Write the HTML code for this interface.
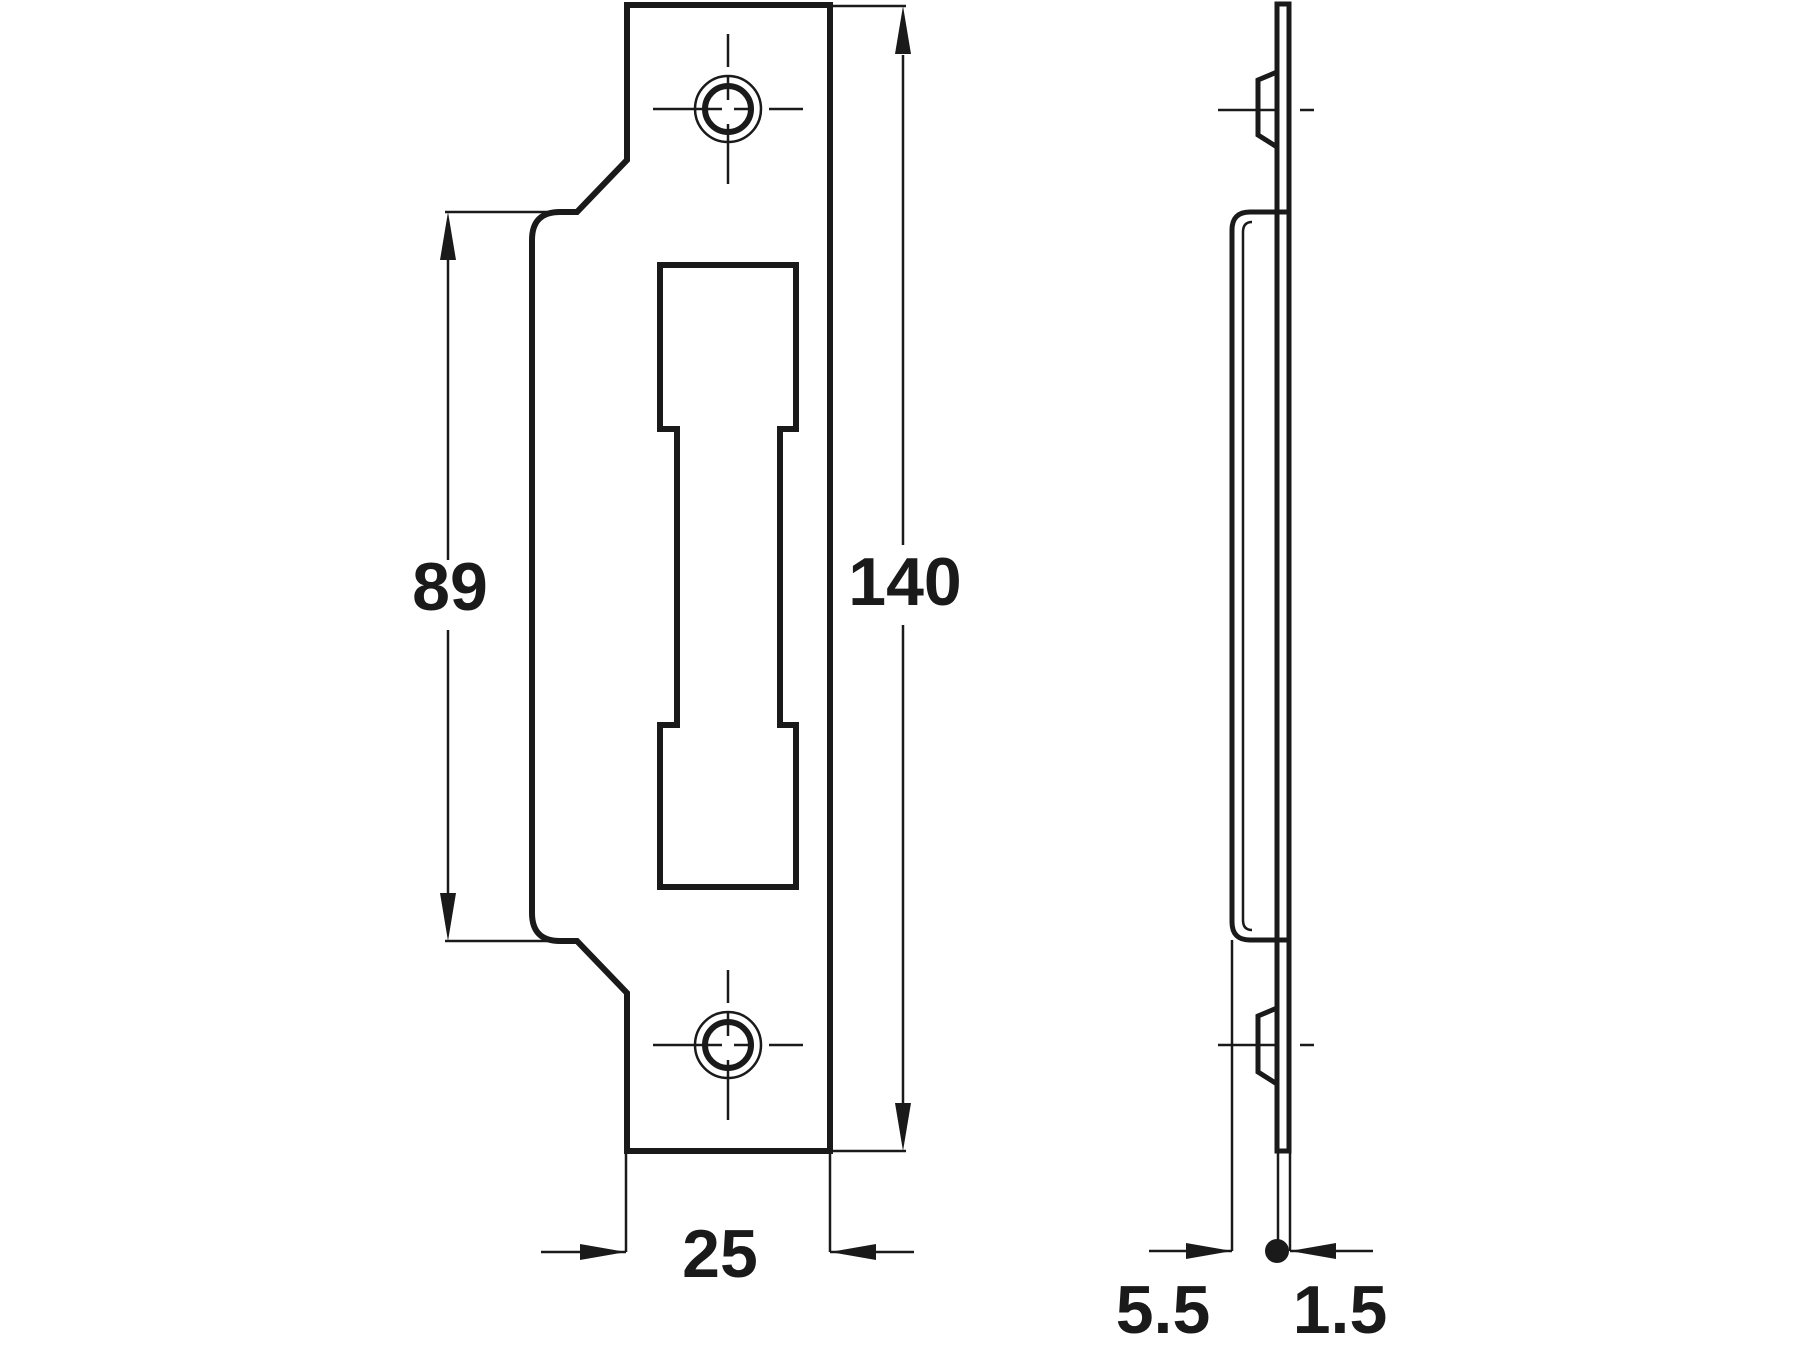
<!DOCTYPE html>
<html><head><meta charset="utf-8"><style>
html,body{margin:0;padding:0;background:#fff;}
svg{display:block;}
text{font-family:"Liberation Sans",sans-serif;font-weight:bold;fill:#1a1a1a;}
</style></head><body>
<svg width="1800" height="1350" viewBox="0 0 1800 1350" xmlns="http://www.w3.org/2000/svg">
<g fill="none" stroke="#1a1a1a" stroke-linejoin="miter">
<!-- front plate -->
<path d="M627 5 H830 V1151 H627 V993 L577 941 H560 Q532 941 532 913 V240 Q532 212 560 212 H577 L627 160 Z" stroke-width="6"/>
<!-- window -->
<path d="M660 265 H796 V429 H780 V725 H796 V887 H660 V725 H677 V429 H660 Z" stroke-width="6"/>
<!-- holes -->
<g>
<circle cx="728" cy="109" r="33" stroke-width="2.5"/>
<circle cx="728" cy="109" r="23" stroke-width="6"/>
<path d="M653 109 H722 M734 109 H752 M769 109 H803 M728 34 V67 M728 76 V100 M728 124 V184" stroke-width="2.5"/>
</g>
<g transform="translate(0,936)">
<circle cx="728" cy="109" r="33" stroke-width="2.5"/>
<circle cx="728" cy="109" r="23" stroke-width="6"/>
<path d="M653 109 H722 M734 109 H752 M769 109 H803 M728 34 V67 M728 76 V100 M728 124 V184" stroke-width="2.5"/>
</g>
<!-- 89 dim -->
<path d="M445 212 H565 M445 941 H565 M448 260 V560 M448 630 V893" stroke-width="2.5"/>
<!-- 140 dim -->
<path d="M830 6 H906 M830 1151 H906 M903 55 V545 M903 625 V1103" stroke-width="2.5"/>
<!-- 25 dim -->
<path d="M626 1151 V1252 M830 1151 V1252 M541 1252 H626 M830 1252 H914" stroke-width="2.5"/>
<!-- side view plate -->
<path d="M1277 4 V1151 H1289 V4 Z" stroke-width="5"/>
<path d="M1277 72 L1258 80 V135 L1277 147" stroke-width="5"/>
<path d="M1277 1008 L1258 1016 V1072 L1277 1084" stroke-width="5"/>
<path d="M1218 110 H1277 M1300 110 H1314 M1218 1045 H1277 M1300 1045 H1314" stroke-width="2.5"/>
<!-- body -->
<path d="M1289 212 H1250 Q1232 212 1232 230 V922 Q1232 940 1250 940 H1289" stroke-width="5"/>
<path d="M1252 222 Q1243 222 1243 232 V920 Q1243 930 1252 930" stroke-width="2.5"/>
<!-- extension -->
<path d="M1278 1151 V1251 M1290 1151 V1251 M1232 940 V1251 M1149 1251 H1232 M1290 1251 H1373" stroke-width="2.5"/>
</g>
<g fill="#1a1a1a">
<path d="M448 212 L440 260 L456 260 Z"/>
<path d="M448 941 L440 893 L456 893 Z"/>
<path d="M903 6 L895 54 L911 54 Z"/>
<path d="M903 1151 L895 1103 L911 1103 Z"/>
<path d="M626 1252 L580 1244 L580 1260 Z"/>
<path d="M830 1252 L876 1244 L876 1260 Z"/>
<path d="M1232 1251 L1186 1243 L1186 1259 Z"/>
<path d="M1290 1251 L1336 1243 L1336 1259 Z"/>
<circle cx="1277" cy="1251" r="12"/>
</g>
<text x="450" y="610" font-size="68" text-anchor="middle">89</text>
<text x="905" y="605" font-size="68" text-anchor="middle">140</text>
<text x="720" y="1277" font-size="68" text-anchor="middle">25</text>
<text x="1163" y="1333" font-size="68" text-anchor="middle">5.5</text>
<text x="1340" y="1333" font-size="68" text-anchor="middle">1.5</text>
</svg>
</body></html>
